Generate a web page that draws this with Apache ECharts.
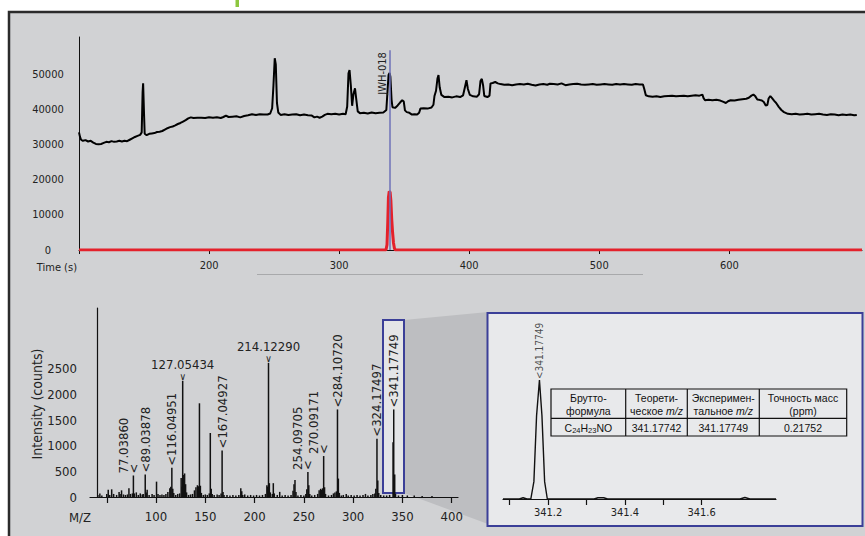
<!DOCTYPE html>
<html><head><meta charset="utf-8">
<script src="https://cdn.jsdelivr.net/npm/echarts@6/dist/echarts.min.js"></script>
<style>html,body{margin:0;padding:0;background:#fff}#c{width:865px;height:536px}</style>
</head><body><div id="c"></div>
<script>
// ---------------- DATA ----------------
// Total ion chromatogram (time s, intensity)
const ticPoints = [[100,33600],[100.8,32300],[101.6,31500],[103,31200],[105,31400],[107,31000],[109,31200],[111,30700],[113,30300],[115,30200],[117,30300],[119,30600],[121,30900],[123,30800],[125,31100],[127,30900],[129,31000],[131,31200],[133,31000],[135,31200],[137,31100],[139,31500],[141,31900],[143,32300],[145,32600],[147,32900],[148.2,33600],[148.9,45000],[149.3,47600],[149.9,40000],[150.5,33200],[152,32800],[154,33200],[156,33300],[158,33400],[160,33700],[162,33800],[164,34000],[166,34400],[168,34800],[170,35100],[172,35300],[174,35600],[176,36000],[178,36300],[180,36700],[182,37100],[184,37600],[186,37900],[188,37700],[191,37800],[194,37800],[197,37700],[200,37900],[203,37800],[206,37900],[209,37700],[211,38000],[213,38400],[215,38000],[218,38100],[221,38200],[224,37900],[227,38300],[230,38500],[233,38800],[236,38600],[239,38800],[242,38700],[245,38700],[247,39000],[248.5,40500],[249.5,47000],[250.5,54800],[251.3,53000],[252.2,42000],[253.2,39300],[255,38600],[258,38800],[261,38600],[264,38700],[267,38800],[270,38500],[273,38700],[276,38500],[279,38400],[281,37900],[283,38100],[285,37800],[287,38100],[289,38600],[291,38900],[294,38800],[297,38900],[300,38700],[303,38900],[305,38800],[306.2,41000],[307.2,50500],[308,51400],[309,47000],[310,41200],[311,44500],[312.2,46200],[313.2,43000],[314.3,39600],[316,39100],[319,39200],[322,39000],[325,39300],[328,39100],[331,39200],[334,39300],[336.3,40000],[337.3,46000],[338,50000],[338.8,50600],[339.4,49500],[340.3,43000],[341,40800],[343,40600],[345,41300],[347,42200],[348.5,42800],[349.7,42400],[350.6,39900],[352,39400],[354,39200],[356,38700],[358,38800],[360,38700],[361.5,39200],[362.5,40400],[365,40500],[368,40400],[371,40700],[372.5,41500],[373.3,44000],[374.5,45500],[375.6,49000],[376.4,50000],[377.3,46500],[378.6,44300],[381,43700],[384,43800],[387,43600],[390,43900],[393,43700],[395.3,44200],[396.7,46500],[397.9,48500],[399,46000],[400.5,44300],[403,43900],[406,43800],[407.6,44500],[408.7,48300],[409.7,48900],[410.7,47000],[411.6,44000],[414,43700],[415.6,44100],[416.4,47600],[418,47700],[420,48000],[422,47600],[424,47400],[427,47200],[430,47300],[433,47100],[436,47300],[439,47400],[442,47300],[445,47500],[448,47200],[451,47000],[454,47300],[457,47400],[460,47200],[462,47500],[465,47400],[468,47300],[471,47600],[474,47100],[477,47300],[480,47400],[483,47500],[486,47300],[489,47200],[492,47300],[495,47400],[498,47200],[501,47300],[504,47400],[507,47300],[510,47200],[513,47400],[516,47300],[519,47400],[522,47300],[525,47200],[528,47400],[531,47300],[533.6,47300],[534.6,46000],[535.8,44200],[538,43900],[541,43800],[544,43900],[547,43700],[550,43900],[553,44000],[556,44100],[559,43900],[562,44000],[565,44100],[568,43900],[571,44100],[574,44200],[577,44100],[579.3,44400],[580.2,43400],[581.3,42800],[584,42900],[587,42800],[590,42900],[593,42700],[595.5,42300],[597.3,42000],[599,42500],[601,42800],[604,42700],[607,42900],[610,43100],[613,43200],[615,43500],[617,44100],[618.5,44400],[620,43900],[621.5,43000],[623,42900],[625,42700],[626.5,42300],[628,41300],[629.2,41400],[630.2,43300],[631.5,44000],[633,43300],[634.5,42600],[636,42000],[638,40900],[640,40000],[642,39400],[645,38900],[648,38800],[651,38900],[654,38700],[657,38800],[660,38900],[663,38700],[666,38800],[669,38900],[672,38700],[675,38600],[678,38800],[681,38700],[684,38500],[687,38700],[690,38600],[693,38700],[696,38500],[698,38600]];
// Extracted ion chromatogram (time s, intensity)
const eicPoints = [[100,0],[336,0],[336.8,1500],[337.4,8000],[337.9,15000],[338.5,16700],[339.2,16500],[339.8,14000],[340.4,9000],[341.1,5000],[341.8,2000],[342.5,500],[343.2,0],[702,0]];
const markerTime = 338.8;
const markerTop = 57100;
const markerName = 'JWH-018';

// Mass spectrum (m/z, counts)
const specPeaks = [[41,40],[43,70],[45,30],[50,60],[51.5,140],[53,40],[55,150],[57,60],[60,40],[62.5,100],[63.5,60],[65,130],[67,50],[69,40],[71,50],[72.5,170],[74,60],[76,70],[77.0386,420],[78,70],[80,90],[82,40],[84,70],[86,50],[87,60],[89.03878,440],[90,90],[91,140],[93,40],[96,60],[98,40],[100.5,300],[102,60],[104,40],[106,50],[108,40],[110,60],[112,100],[114,170],[115,200],[116.04951,570],[117,160],[118,80],[120,40],[122,60],[124,70],[125.5,370],[126.5,200],[127.05434,2270],[128,430],[129,460],[130,250],[131,90],[133,40],[135,50],[137,60],[139,130],[140.5,190],[142,230],[143,210],[144.05,1830],[145,220],[146,80],[148,40],[150,50],[152,40],[154,70],[155.07,1250],[156,160],[157,60],[159,40],[162,50],[164,40],[166,70],[167.04927,910],[168,100],[169,40],[172,40],[175,30],[178,40],[181,30],[184,40],[186,170],[187,110],[188,40],[190,50],[193,30],[196,40],[199,30],[202,40],[205,30],[208,40],[211,60],[212.5,230],[213.2,200],[214.1229,2620],[215,270],[216,90],[218,60],[219,270],[220,70],[223,40],[225.5,100],[228,30],[231,40],[234,30],[237,40],[239,120],[240,250],[241,330],[242,100],[244,30],[247,40],[250,30],[252,60],[253,150],[254.09705,490],[255,230],[256,60],[258,30],[261,40],[264,60],[265.5,130],[267,160],[268,140],[269,170],[270.09171,800],[271,190],[272,60],[275,30],[278,40],[280,70],[281.5,90],[283,110],[284.1072,1710],[285,360],[286,80],[288,30],[290,40],[293,60],[295,30],[298,40],[301,30],[304,40],[307,30],[310,40],[312.5,60],[315,30],[318,40],[320,60],[322,70],[323,160],[324.17497,1140],[325,320],[326,80],[328,40],[331,30],[334,30],[337,40],[340.5,1070],[341.17749,1710],[342.18,440],[343,60],[346,30],[350,40],[355,30],[362,30],[370,20],[380,20]];
// Peak annotations (m/z, text)
const peakLabels = [[77.0386,'77.03860'],[89.03878,'89.03878'],[116.04951,'116.04951'],[127.05434,'127.05434'],[167.04927,'167.04927'],[214.1229,'214.12290'],[254.09705,'254.09705'],[270.09171,'270.09171'],[284.1072,'284.10720'],[324.17497,'324.17497'],[341.17749,'341.17749']];
const sideLabels = ['77.03860','254.09705','270.09171'];
const flatLabels = ['127.05434','214.12290'];

// Zoomed profile of the molecular ion (m/z, counts)
const insetProfile = [[341.0825,0],[341.125,0],[341.135,18],[341.145,0],[341.155,0],[341.163,250],[341.17,1200],[341.17749,1713],[341.184,1200],[341.191,250],[341.198,0],[341.32,0],[341.33,18],[341.345,18],[341.355,0],[341.70,0],[341.713,22],[341.726,0],[341.794,0]];
const insetPeak = [341.17749, 1713, '341.17749'];

// Axis ticks / labels
const topXTicks = [100,200,300,400,500,600];
const topXLabels = [200,300,400,500,600];
const specXTicks = [50,100,150,200,250,300,350,400];
const specXLabels = [100,150,200,250,300,350,400];
const insetXTicks = [341.1,341.2,341.3,341.4,341.5,341.6];
const insetXLabels = [341.2,341.4,341.6];

// Table
const tableHead = ['Брутто-\nформула','Теорети-\nческое {i|m/z}','Эксперимен-\nтальное {i|m/z}','Точность масс\n(ppm)'];
const tableRow = ['C{s|24}H{s|23}NO','341.17742','341.17749','0.21752'];

// ---------------- CHART ----------------
const FONT = "'DejaVu Sans Condensed', 'DejaVu Sans', sans-serif";
const ARIAL = "'Liberation Sans', Arial, sans-serif";
const TXT = '#222';
const chart = echarts.init(document.getElementById('c'), null, {renderer: 'svg'});

function peakLabel(text) {
  if (flatLabels.includes(text)) {
    return {show: true, position: 'top', distance: 0, rotate: 0,
      formatter: '{t|' + text + '}\n{c|∨}',
      rich: {t: {fontSize: 13, fontFamily: FONT, color: TXT, lineHeight: 15},
             c: {fontSize: 10, fontFamily: FONT, color: TXT, lineHeight: 9}}};
  }
  if (sideLabels.includes(text)) {
    return {show: true, position: 'top', distance: 2, rotate: 90, align: 'left', verticalAlign: 'middle',
      formatter: '{t|' + text + '}\n{c|<}\n{t| }',
      rich: {t: {fontSize: 13, fontFamily: FONT, color: TXT, lineHeight: 11},
             c: {fontSize: 13, fontFamily: FONT, color: TXT, lineHeight: 9}}};
  }
  return {show: true, position: 'top', distance: 2, rotate: 90, align: 'left', verticalAlign: 'middle',
    formatter: '<' + text, fontSize: 13, fontFamily: FONT, color: TXT};
}

const specData = specPeaks.map(function (p) {
  const lab = peakLabels.find(function (l) { return l[0] === p[0]; });
  const item = {value: [p[0], p[1]]};
  if (lab) item.label = peakLabel(lab[1]);
  return item;
});

const colX = [551, 625.7, 687.3, 759.3, 846.7];
const tableY = [389, 418.3, 436];
const tableGraphics = [];
tableGraphics.push({type: 'rect', z: 5, shape: {x: colX[0], y: tableY[0], width: colX[4] - colX[0], height: tableY[2] - tableY[0]}, style: {fill: 'none', stroke: '#111', lineWidth: 1.2}});
for (let i = 1; i < 4; i++) tableGraphics.push({type: 'line', z: 5, shape: {x1: colX[i], y1: tableY[0], x2: colX[i], y2: tableY[2]}, style: {stroke: '#111', lineWidth: 1.2}});
tableGraphics.push({type: 'line', z: 5, shape: {x1: colX[0], y1: tableY[1], x2: colX[4], y2: tableY[1]}, style: {stroke: '#111', lineWidth: 1.2}});
const cellRich = {i: {fontStyle: 'italic', fontSize: 10.5, fontFamily: ARIAL, fill: '#111'}, s: {fontSize: 7.5, fontFamily: ARIAL, fill: '#111', verticalAlign: 'bottom', lineHeight: 13}};
for (let i = 0; i < 4; i++) {
  const cx = (colX[i] + colX[i + 1]) / 2;
  tableGraphics.push({type: 'text', z: 6, x: cx, y: (tableY[0] + tableY[1]) / 2 + 0.5,
    style: {text: tableHead[i], fill: '#111', fontSize: 10.5, fontFamily: ARIAL, lineHeight: 13, align: 'center', verticalAlign: 'middle', rich: cellRich}});
  tableGraphics.push({type: 'text', z: 6, x: cx, y: (tableY[1] + tableY[2]) / 2 + 0.5,
    style: {text: tableRow[i], fill: '#111', fontSize: 10.5, fontFamily: ARIAL, lineHeight: 13, align: 'center', verticalAlign: 'middle', rich: cellRich}});
}

const option = {
  animation: false,
  backgroundColor: '#ffffff',
  textStyle: {fontFamily: FONT, color: TXT},
  graphic: [
    {type: 'rect', z: -10, shape: {x: 9, y: 12, width: 900, height: 600}, style: {fill: '#d1d2d4', stroke: '#2b2b2b', lineWidth: 2.5}},
    {type: 'rect', z: -10, shape: {x: 235.5, y: 0, width: 3.5, height: 7}, style: {fill: '#8dc63f'}},
    {type: 'line', z: -9, shape: {x1: 257, y1: 274.5, x2: 643, y2: 274.5}, style: {stroke: '#a8a9ab', lineWidth: 1}},
    {type: 'polygon', z: -8, shape: {points: [[404, 320], [488, 312], [488, 524], [404, 493]]}, style: {fill: '#bdbec1'}},
    {type: 'rect', z: -7, shape: {x: 383, y: 320, width: 21, height: 173}, style: {fill: '#e4e5e7', stroke: '#3b3f98', lineWidth: 2}},
    {type: 'rect', z: -7, shape: {x: 487.5, y: 313, width: 375, height: 213}, style: {fill: '#e8e9eb', stroke: '#3b3f98', lineWidth: 2}},
    {type: 'text', z: 5, x: 77, y: 267, style: {text: 'Time (s)', fontSize: 11, fontFamily: FONT, fill: TXT, align: 'right', verticalAlign: 'middle'}},
    {type: 'text', z: 5, x: 80, y: 517, style: {text: 'M/Z', fontSize: 13, fontFamily: FONT, fill: TXT, align: 'center', verticalAlign: 'middle'}},
    {type: 'text', z: 5, x: 37, y: 404, rotation: Math.PI / 2, style: {text: 'Intensity (counts)', fontSize: 14, fontFamily: FONT, fill: TXT, align: 'center', verticalAlign: 'middle'}}
  ].concat(tableGraphics),
  grid: [
    {left: 79, right: 3, top: 37, bottom: 286, outerBoundsMode: 'none'},
    {left: 90, right: 407, top: 308, bottom: 39, outerBoundsMode: 'none'},
    {left: 503, right: 89, top: 360, bottom: 37, outerBoundsMode: 'none'}
  ],
  xAxis: [
    {gridIndex: 0, type: 'value', min: 100, max: 702,
      axisLine: {lineStyle: {color: '#111', width: 1}},
      axisTick: {show: true, length: 4, customValues: topXTicks, lineStyle: {color: '#111'}},
      axisLabel: {customValues: topXLabels, fontSize: 11, fontFamily: FONT, color: TXT, margin: 10},
      splitLine: {show: false}},
    {gridIndex: 1, type: 'value', min: 33, max: 406.4,
      axisLine: {lineStyle: {color: '#111', width: 1.2}},
      axisTick: {show: true, length: 6, customValues: specXTicks, lineStyle: {color: '#111', width: 1.2}},
      axisLabel: {customValues: specXLabels, fontSize: 13, fontFamily: FONT, color: TXT, margin: 13},
      splitLine: {show: false}},
    {gridIndex: 2, type: 'value', min: 341.0825, max: 341.794,
      axisLine: {lineStyle: {color: '#111', width: 1.2}},
      axisTick: {show: true, length: 6, customValues: insetXTicks, lineStyle: {color: '#111', width: 1.2}},
      axisLabel: {customValues: insetXLabels, fontSize: 11, fontFamily: FONT, color: TXT, margin: 8,
        formatter: function (v) { return v.toFixed(1); }},
      splitLine: {show: false}}
  ],
  yAxis: [
    {gridIndex: 0, type: 'value', min: 0, max: 60857, interval: 10000,
      axisLine: {show: true, lineStyle: {color: '#111', width: 1}},
      axisTick: {show: false},
      axisLabel: {fontSize: 11, fontFamily: FONT, color: TXT, align: 'center', margin: 31,
        formatter: function (v) { return v <= 50000 ? String(v) : ''; }},
      splitLine: {show: false}},
    {gridIndex: 1, type: 'value', min: 0, max: 3691, interval: 500, offset: -7,
      axisLine: {show: true, lineStyle: {color: '#111', width: 1.2}},
      axisTick: {show: false},
      axisLabel: {fontSize: 13, fontFamily: FONT, color: TXT, margin: 20,
        formatter: function (v) { return v <= 2500 ? String(v) : ''; }},
      splitLine: {show: false}},
    {gridIndex: 2, type: 'value', min: 0, max: 2000, show: false}
  ],
  series: [
    {type: 'line', xAxisIndex: 0, yAxisIndex: 0, data: eicPoints, showSymbol: false, z: 3,
      lineStyle: {color: '#e4212b', width: 3}, itemStyle: {color: '#e4212b'},
      markLine: {silent: true, symbol: ['none', 'none'],
        lineStyle: {color: '#6e72b8', width: 1.5, type: 'solid'},
        label: {show: true, formatter: markerName, position: 'insideEndTop', fontSize: 11, fontFamily: FONT, color: TXT, distance: 2},
        data: [[{coord: [markerTime, 0]}, {coord: [markerTime, markerTop]}]]}},
    {type: 'line', xAxisIndex: 0, yAxisIndex: 0, data: ticPoints, showSymbol: false, z: 4,
      lineStyle: {color: '#000', width: 2}, itemStyle: {color: '#000'}},
    {type: 'bar', xAxisIndex: 1, yAxisIndex: 1, data: specData, barWidth: 1.5, z: 3,
      itemStyle: {color: '#111'}},
    {type: 'line', xAxisIndex: 2, yAxisIndex: 2, data: insetProfile, showSymbol: false, z: 3,
      lineStyle: {color: '#111', width: 1.4}, itemStyle: {color: '#111'}},
    {type: 'scatter', xAxisIndex: 2, yAxisIndex: 2, symbolSize: 0, z: 4,
      data: [{value: [insetPeak[0], insetPeak[1]],
        label: {show: true, position: 'top', distance: 1, rotate: 90, align: 'left', verticalAlign: 'middle',
          formatter: '<' + insetPeak[2], fontSize: 10, fontFamily: FONT, color: TXT}}]}
  ]
};
chart.setOption(option);
</script></body></html>
